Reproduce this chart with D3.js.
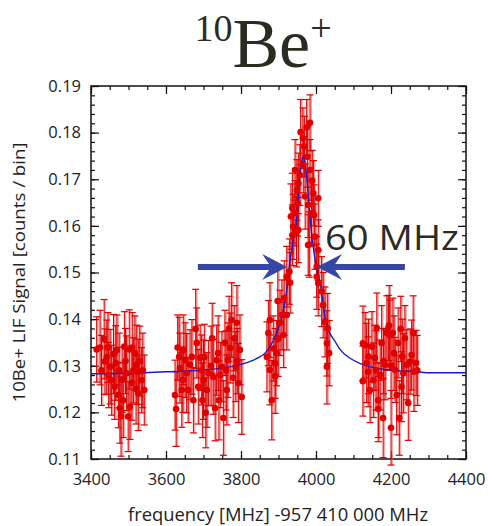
<!DOCTYPE html>
<html>
<head>
<meta charset="utf-8">
<script src="https://cdn.jsdelivr.net/npm/d3@7"></script>
<style>
  body { margin: 0; background: #fff; }
  svg { display: block; }
  .axis path { display: none; }
  .axis line { stroke: #111; stroke-width: 1.2; }
  .axis text { font-family: "Open Sans", sans-serif; font-size: 16.5px; fill: #222; }
</style>
</head>
<body>
<div id="idChart"></div>
<script>
// ---- data ----
var scan1Freq = [3415,3424,3428,3435,3437,3442,3445,3447,3451,3455,3460,3463,3466,3469,3473,3475,3477,3480,3483,3486,3489,3492,3495,3499,3502,3504,3509,3510,3513,3517,3520,3522,3526,3526,3530,3535,3538,3542];
var scan1Signal = [0.1335,0.1339,0.1290,0.1357,0.1309,0.1318,0.1339,0.1280,0.1298,0.1269,0.1325,0.1255,0.1306,0.1334,0.1237,0.1290,0.1209,0.1191,0.1270,0.1226,0.1341,0.1310,0.1284,0.1191,0.1335,0.1212,0.1263,0.1339,0.1290,0.1327,0.1250,0.1302,0.1287,0.1241,0.1310,0.1269,0.1290,0.1248];
var scan1Err = [0.0070,0.0080,0.0075,0.0085,0.0070,0.0080,0.0075,0.0070,0.0080,0.0075,0.0085,0.0070,0.0080,0.0075,0.0070,0.0080,0.0075,0.0085,0.0070,0.0080,0.0075,0.0070,0.0080,0.0075,0.0085,0.0070,0.0080,0.0075,0.0070,0.0080,0.0075,0.0085,0.0070,0.0080,0.0075,0.0070,0.0080,0.0075];

var scan2Freq = [3624,3627,3631,3635,3637,3642,3645,3646,3651,3655,3659,3664,3669,3673,3679,3682,3686,3691,3695,3697,3700,3702,3706,3709,3713,3720,3723,3726,3731,3735,3739,3741,3745,3749,3753,3757,3760,3762,3765,3768,3771,3775,3779,3782,3786,3789,3790,3793,3797,3802];
var scan2Signal = [0.1237,0.1207,0.1339,0.1319,0.1295,0.1248,0.1270,0.1334,0.1312,0.1284,0.1248,0.1302,0.1319,0.1226,0.1379,0.1349,0.1255,0.1317,0.1291,0.1226,0.1270,0.1319,0.1199,0.1248,0.1284,0.1300,0.1359,0.1276,0.1209,0.1312,0.1327,0.1226,0.1280,0.1298,0.1188,0.1349,0.1290,0.1248,0.1312,0.1379,0.1338,0.1398,0.1274,0.1359,0.1298,0.1392,0.1310,0.1263,0.1334,0.1233];
var scan2Err = [0.0075,0.0080,0.0070,0.0085,0.0075,0.0080,0.0070,0.0075,0.0080,0.0085,0.0070,0.0075,0.0080,0.0070,0.0085,0.0075,0.0080,0.0070,0.0075,0.0080,0.0085,0.0070,0.0075,0.0080,0.0070,0.0085,0.0075,0.0080,0.0070,0.0075,0.0080,0.0085,0.0070,0.0075,0.0080,0.0070,0.0085,0.0075,0.0080,0.0070,0.0075,0.0080,0.0085,0.0070,0.0075,0.0080,0.0070,0.0085,0.0075,0.0080];

var scan3Freq = [3869,3873,3877,3877,3882,3886,3891,3891,3895,3898,3899,3904,3909,3913,3915,3922,3922,3929,3931,3933,3937,3937,3939,3944,3944,3948,3949,3951,3953,3953,3957,3959,3965,3966,3969,3971,3975,3977,3979,3979,3982,3984,3984,3988,3990,3993,3995,3997,4002,4002,4006,4006,4006,4015,4019,4024,4029,4029,4031,4035];
var scan3Signal = [0.1319,0.1370,0.1398,0.1291,0.1226,0.1337,0.1305,0.1278,0.1327,0.1439,0.1357,0.1392,0.1409,0.1366,0.1445,0.1491,0.1409,0.1502,0.1478,0.1620,0.1638,0.1580,0.1598,0.1720,0.1627,0.1587,0.1677,0.1648,0.1691,0.1591,0.1709,0.1801,0.1788,0.1731,0.1770,0.1663,0.1811,0.1748,0.1645,0.1559,0.1560,0.1821,0.1720,0.1627,0.1697,0.1670,0.1623,0.1577,0.1512,0.1491,0.1659,0.1548,0.1477,0.1459,0.1430,0.1394,0.1348,0.1298,0.1380,0.1327];
var scan3Err = [0.0075,0.0070,0.0080,0.0075,0.0085,0.0070,0.0075,0.0080,0.0070,0.0075,0.0080,0.0070,0.0075,0.0070,0.0080,0.0065,0.0075,0.0070,0.0065,0.0070,0.0075,0.0065,0.0070,0.0065,0.0070,0.0075,0.0065,0.0070,0.0065,0.0070,0.0065,0.0070,0.0065,0.0060,0.0065,0.0070,0.0060,0.0065,0.0070,0.0065,0.0070,0.0060,0.0065,0.0070,0.0065,0.0070,0.0065,0.0070,0.0065,0.0070,0.0060,0.0065,0.0070,0.0075,0.0070,0.0075,0.0070,0.0080,0.0075,0.0070];

var scan4Freq = [4125,4125,4131,4135,4139,4140,4144,4149,4153,4157,4160,4162,4166,4166,4171,4175,4179,4180,4184,4189,4193,4195,4197,4200,4200,4205,4208,4211,4215,4219,4222,4226,4228,4230,4233,4237,4242,4246,4251,4255,4259,4261,4267,4270];
var scan4Signal = [0.1348,0.1267,0.1344,0.1306,0.1287,0.1320,0.1248,0.1341,0.1269,0.1317,0.1290,0.1381,0.1226,0.1207,0.1280,0.1349,0.1188,0.1310,0.1302,0.1370,0.1381,0.1387,0.1366,0.1167,0.1300,0.1370,0.1327,0.1291,0.1237,0.1349,0.1188,0.1379,0.1255,0.1320,0.1284,0.1359,0.1302,0.1220,0.1309,0.1323,0.1370,0.1287,0.1306,0.1290];
var scan4Err = [0.0080,0.0075,0.0070,0.0085,0.0075,0.0080,0.0070,0.0075,0.0080,0.0070,0.0085,0.0075,0.0080,0.0070,0.0075,0.0080,0.0085,0.0070,0.0075,0.0080,0.0070,0.0085,0.0075,0.0080,0.0070,0.0075,0.0080,0.0070,0.0085,0.0075,0.0080,0.0070,0.0075,0.0080,0.0085,0.0070,0.0075,0.0080,0.0070,0.0075,0.0080,0.0085,0.0070,0.0075];

// fitted line
var fitFreq = [3400,3500,3600,3700,3750,3800,3830,3850,3864,3880,3891,3900,3909,3915,3922,3931,3940,3949,3957,3962,3966,3970,3975,3984,3990,3997,4004,4011,4018,4024,4030,4037,4051,4064,4091,4117,4153,4197,4269,4304,4400];
var fitSignal = [0.1283,0.1284,0.1287,0.1291,0.1295,0.1303,0.1311,0.1319,0.1327,0.1345,0.1362,0.1382,0.1405,0.1428,0.1462,0.1527,0.1572,0.1620,0.1706,0.1738,0.1748,0.1740,0.1706,0.1620,0.1572,0.1530,0.1500,0.1477,0.1440,0.1405,0.1385,0.1370,0.1352,0.1335,0.1316,0.1305,0.1296,0.1291,0.1287,0.1285,0.1285];

var xTicks = [3400,3600,3800,4000,4200,4400];
var yTicks = [0.11,0.12,0.13,0.14,0.15,0.16,0.17,0.18,0.19];

// FWHM arrows: [start, tip] in MHz at signal level
var arrowLeft = [3685, 3923];
var arrowRight = [4237, 4003];
var arrowLevel = 0.1512;
var widthLabel = "60 MHz";

// ---- drawing ----
var iWidth = 488, iHeight = 526;
var margin = {top: 86, right: 22, bottom: 67, left: 91};

var svg = d3.select("#idChart").append("svg")
    .attr("width", iWidth).attr("height", iHeight);

var x = d3.scaleLinear().domain([3400, 4400]).range([margin.left, iWidth - margin.right]);
var y = d3.scaleLinear().domain([0.11, 0.19]).range([iHeight - margin.bottom, margin.top]);

// title 10Be+
var title = svg.append("text")
    .attr("x", 263).attr("y", 67)
    .attr("text-anchor", "middle")
    .style("font-family", "'Liberation Serif', serif")
    .style("fill", "#2b2b22");
title.append("tspan").attr("font-size", 38).attr("dy", -26).text("10");
title.append("tspan").attr("font-size", 70).attr("dy", 26).text("Be");
title.append("tspan").attr("font-size", 38).attr("dy", -26).text("+");

// axes, ticks inward on all sides
var xMinor = d3.range(3400, 4401, 50);
var yMinor = d3.range(0, 41).map(function(i) { return +(0.11 + i * 0.002).toFixed(3); });

function addAxis(axis, tx, ty) {
    svg.append("g").attr("class", "axis")
        .attr("transform", "translate(" + tx + "," + ty + ")")
        .call(axis);
}
var yb = iHeight - margin.bottom, xr = iWidth - margin.right;

addAxis(d3.axisBottom(x).tickValues(xMinor).tickSize(-4).tickFormat(""), 0, yb);
addAxis(d3.axisBottom(x).tickValues(xTicks).tickSize(-8).tickPadding(14).tickFormat(d3.format("d")), 0, yb);
addAxis(d3.axisTop(x).tickValues(xMinor).tickSize(-4).tickFormat(""), 0, margin.top);
addAxis(d3.axisTop(x).tickValues(xTicks).tickSize(-8).tickFormat(""), 0, margin.top);
addAxis(d3.axisLeft(y).tickValues(yMinor).tickSize(-4).tickFormat(""), margin.left, 0);
addAxis(d3.axisLeft(y).tickValues(yTicks).tickSize(-8).tickPadding(10).tickFormat(d3.format(".2f")), margin.left, 0);
addAxis(d3.axisRight(y).tickValues(yMinor).tickSize(-4).tickFormat(""), xr, 0);
addAxis(d3.axisRight(y).tickValues(yTicks).tickSize(-8).tickFormat(""), xr, 0);

svg.append("rect")
    .attr("x", margin.left).attr("y", margin.top)
    .attr("width", xr - margin.left).attr("height", yb - margin.top)
    .attr("fill", "none").attr("stroke", "#111").attr("stroke-width", 1.5);

// axis titles
svg.append("text")
    .attr("transform", "translate(25," + ((margin.top + yb) / 2) + ") rotate(-90)")
    .attr("text-anchor", "middle")
    .attr("textLength", 260).attr("lengthAdjust", "spacingAndGlyphs")
    .style("font-family", "'Open Sans', sans-serif").style("font-size", "16px").style("fill", "#222")
    .text("10Be+ LIF Signal [counts / bin]");

svg.append("text")
    .attr("x", 278).attr("y", 521)
    .attr("text-anchor", "middle")
    .attr("textLength", 300).attr("lengthAdjust", "spacingAndGlyphs")
    .style("font-family", "'Open Sans', sans-serif").style("font-size", "17.5px").style("fill", "#222")
    .text("frequency [MHz] -957 410 000 MHz");

// data points
var rows = [];
[[scan1Freq, scan1Signal, scan1Err], [scan2Freq, scan2Signal, scan2Err],
 [scan3Freq, scan3Signal, scan3Err], [scan4Freq, scan4Signal, scan4Err]].forEach(function(s) {
    s[0].forEach(function(f, i) { rows.push({no: f, value: s[1][i], err: s[2][i]}); });
});

var bars = svg.append("g");
bars.selectAll("line.band").data(rows).enter().append("line")
    .attr("x1", function(d) { return x(d.no) + 1; }).attr("x2", function(d) { return x(d.no) + 1; })
    .attr("y1", function(d) { return y(d.value - d.err); })
    .attr("y2", function(d) { return y(d.value + d.err); })
    .attr("stroke", "#ee6060").attr("stroke-opacity", 0.55).attr("stroke-width", 2);
bars.selectAll("line.bar").data(rows).enter().append("line")
    .attr("x1", function(d) { return x(d.no); }).attr("x2", function(d) { return x(d.no); })
    .attr("y1", function(d) { return y(d.value - d.err); })
    .attr("y2", function(d) { return y(d.value + d.err); })
    .attr("stroke", "#dd0000").attr("stroke-width", 1);
["top", "bottom"].forEach(function(side) {
    bars.selectAll("line.cap" + side).data(rows).enter().append("line")
        .attr("x1", function(d) { return x(d.no) - 3.5; }).attr("x2", function(d) { return x(d.no) + 3.5; })
        .attr("y1", function(d) { return y(side == "top" ? d.value + d.err : d.value - d.err); })
        .attr("y2", function(d) { return y(side == "top" ? d.value + d.err : d.value - d.err); })
        .attr("stroke", "#dd0000").attr("stroke-width", 1.2);
});

// fit line
var valueLine = d3.line()
    .x(function(d, i) { return x(fitFreq[i]); })
    .y(function(d) { return y(d); })
    .curve(d3.curveMonotoneX);
svg.append("path")
    .attr("d", valueLine(fitSignal))
    .attr("fill", "none").attr("stroke", "#1a1ad0").attr("stroke-width", 1.4);

svg.append("g").selectAll("circle").data(rows).enter().append("circle")
    .attr("r", 3.3)
    .attr("fill", "#e00000")
    .attr("cx", function(d) { return x(d.no); })
    .attr("cy", function(d) { return y(d.value); });

// arrows
function drawArrow(a) {
    var x0 = x(a[0]), x1 = x(a[1]), yy = y(arrowLevel);
    var dir = x1 > x0 ? 1 : -1;
    var headLen = 25, notch = 9, half = 13;
    svg.append("line")
        .attr("x1", x0).attr("x2", x1 - dir * headLen + dir * notch)
        .attr("y1", yy).attr("y2", yy)
        .attr("stroke", "#3546a6").attr("stroke-width", 6);
    svg.append("path")
        .attr("d", "M" + x1 + "," + yy +
            " L" + (x1 - dir * headLen) + "," + (yy - half) +
            " L" + (x1 - dir * (headLen - notch)) + "," + yy +
            " L" + (x1 - dir * headLen) + "," + (yy + half) + " Z")
        .attr("fill", "#3546a6");
}
drawArrow(arrowLeft);
drawArrow(arrowRight);

svg.append("text")
    .attr("x", 325).attr("y", 250)
    .attr("textLength", 134).attr("lengthAdjust", "spacingAndGlyphs")
    .style("font-family", "'Open Sans', sans-serif").style("font-size", "34px").style("fill", "#2b2b22")
    .text(widthLabel);
</script>
</body>
</html>
